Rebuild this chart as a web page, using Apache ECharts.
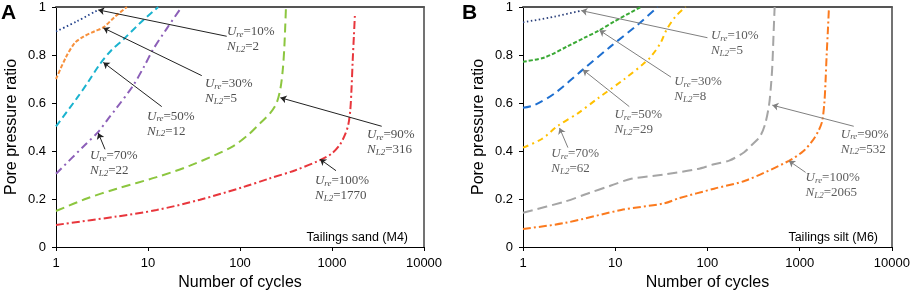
<!DOCTYPE html>
<html>
<head>
<meta charset="utf-8">
<script src="https://cdn.jsdelivr.net/npm/echarts@6/dist/echarts.min.js"></script>
<style>
  html, body { margin: 0; padding: 0; background: #fff; }
  #chart { width: 913px; height: 296px; }
</style>
</head>
<body>
<div id="chart"></div>
<script>
const xTicks = [1, 10, 100, 1000, 10000];
const ureLevels = ['10%', '30%', '50%', '70%', '90%', '100%'];
const sandNL2 = ['2', '5', '12', '22', '316', '1770'];
const siltNL2 = ['5', '8', '29', '62', '532', '2065'];

// panel A, tailings sand (M4): [cycles, pore pressure ratio]
const sand10 = [[1, 0.898], [1.68, 0.94], [2.88, 0.988]];
const sand30 = [[1, 0.70], [1.28, 0.79], [1.6, 0.85], [2.0, 0.877], [2.6, 0.898], [3.27, 0.915], [4.38, 0.96], [5.9, 1.0]];
const sand50 = [[1, 0.503], [1.68, 0.619], [2.24, 0.688], [3.0, 0.762], [4.0, 0.82], [5.4, 0.865], [8.2, 0.933], [12.9, 1.0]];
const sand70 = [[1, 0.305], [2, 0.42], [2.88, 0.48], [3.7, 0.535], [4.57, 0.58], [6.9, 0.673], [9, 0.75], [11.4, 0.824], [16, 0.91], [23.2, 1.0]];
const sand90 = [[1, 0.15], [2.16, 0.202], [4.57, 0.243], [12.4, 0.291], [28.6, 0.339], [80, 0.415], [125, 0.47],
  [165, 0.515], [215, 0.56], [250, 0.6], [275, 0.66], [292, 0.74], [304, 0.84], [316, 1.0]];
const sand100 = [[1, 0.092], [4.57, 0.127], [12.4, 0.154], [36.7, 0.197], [109, 0.25], [203, 0.284], [400, 0.32],
  [741, 0.362], [1000, 0.39], [1222, 0.427], [1385, 0.468], [1503, 0.509], [1580, 0.57], [1630, 0.66],
  [1680, 0.78], [1730, 0.88], [1778, 0.975]];

// panel B, tailings silt (M6)
const silt10 = [[1, 0.936], [2.2, 0.96], [4.28, 0.985]];
const silt30 = [[1, 0.772], [1.72, 0.79], [3.07, 0.837], [4.65, 0.872], [6.75, 0.903], [9.8, 0.94], [19, 1.0]];
const silt50 = [[1, 0.58], [1.34, 0.592], [2.2, 0.64], [4.45, 0.739], [9.0, 0.837], [17.5, 0.926], [28.8, 1.0]];
const silt70 = [[1, 0.414], [1.6, 0.45], [2.39, 0.505], [3.93, 0.557], [6.47, 0.619], [12.6, 0.70], [19.8, 0.76],
  [24, 0.79], [31, 0.85], [36, 0.905], [45, 0.96], [58, 1.0]];
const silt90 = [[1, 0.143], [2.83, 0.189], [5.05, 0.223], [9, 0.256], [14.9, 0.284], [34, 0.302], [78, 0.325],
  [118, 0.345], [172, 0.36], [250, 0.395], [306, 0.427], [370, 0.46], [420, 0.51], [465, 0.591], [490, 0.68],
  [505, 0.755], [520, 0.88], [535, 1.0]];
const silt100 = [[1, 0.075], [2.83, 0.1], [11.6, 0.154], [34, 0.182], [49, 0.203], [118, 0.243], [260, 0.277],
  [764, 0.359], [1100, 0.4], [1365, 0.441], [1580, 0.48], [1750, 0.523], [1850, 0.6], [1905, 0.687],
  [1960, 0.8], [2020, 0.9], [2070, 0.988]];

// annotation anchors, in data units
const sandTextAt = [[72.2, 0.865], [41.6, 0.65], [9.75, 0.514], [2.34, 0.35], [2400, 0.4365], [653, 0.244]];
const sandArrowFrom = [[71.7, 0.878], [38.4, 0.714], [14.1, 0.585], [3.41, 0.407], [3470, 0.503], [1105, 0.318]];
const sandArrowTo = [[2.88, 0.988], [3.27, 0.913], [3.27, 0.769], [2.88, 0.475], [275, 0.622], [741, 0.366]];
const siltTextAt = [[109, 0.848], [43.6, 0.656], [9.8, 0.52], [2.03, 0.357], [2790, 0.439], [1158, 0.257]];
const siltArrowFrom = [[100, 0.872], [40.2, 0.708], [14.2, 0.585], [3.07, 0.414], [3855, 0.503], [1158, 0.311]];
const siltArrowTo = [[4.28, 0.985], [6.75, 0.903], [4.45, 0.739], [2.49, 0.496], [505, 0.591], [764, 0.359]];

const sans = 'Liberation Sans, Arial, sans-serif';
const serif = 'Liberation Serif, Times New Roman, serif';

const rich = {
  i: { fontFamily: serif, fontStyle: 'italic', fontSize: 13, lineHeight: 15 },
  s: { fontFamily: serif, fontStyle: 'italic', fontSize: 9, lineHeight: 6, verticalAlign: 'bottom' },
  n: { fontFamily: serif, fontSize: 13, lineHeight: 15 },
};

function curve(data, color, dash, idx, width) {
  return {
    type: 'line',
    xAxisIndex: idx,
    yAxisIndex: idx,
    data,
    symbol: 'none',
    smooth: 0.3,
    lineStyle: { color, width: width || 2, type: dash },
    z: 3,
  };
}

function arrows(from, to, color, idx) {
  return {
    type: 'lines',
    coordinateSystem: 'cartesian2d',
    xAxisIndex: idx,
    yAxisIndex: idx,
    symbol: ['none', 'arrow'],
    symbolSize: [0, 6],
    lineStyle: { color, width: 1, opacity: 1, curveness: 0 },
    data: from.map((f, i) => ({ coords: [f, to[i]] })),
    z: 4,
  };
}

function notes(at, nl2, color, idx) {
  return {
    type: 'scatter',
    xAxisIndex: idx,
    yAxisIndex: idx,
    symbolSize: 0,
    data: at.map((p, i) => ({
      value: p,
      label: { formatter: `{i|U}{s|re}{n|=${ureLevels[i]}}\n{i|N}{s|L2}{n|=${nl2[i]}}` },
    })),
    label: { show: true, position: 'right', distance: 0, color, rich },
    z: 5,
  };
}

function mainX(idx) {
  return {
    gridIndex: idx,
    type: 'log',
    logBase: 10,
    min: xTicks[0],
    max: xTicks[xTicks.length - 1],
    axisLine: { onZero: false, lineStyle: { color: '#000', width: 1 } },
    axisTick: { length: 4, lineStyle: { color: '#000' } },
    minorTick: { show: false },
    splitLine: { show: false },
    axisLabel: {
      fontSize: 13, color: '#000', fontFamily: sans, margin: 10,
      formatter: v => String(Math.round(v)),
    },
    name: 'Number of cycles',
    nameLocation: 'middle',
    nameGap: 28,
    nameTextStyle: { fontSize: 16, color: '#000', fontFamily: sans },
  };
}

function mainY(idx) {
  return {
    gridIndex: idx,
    type: 'value',
    min: 0,
    max: 1,
    interval: 0.2,
    axisLine: { show: true, onZero: false, lineStyle: { color: '#000', width: 1 } },
    axisTick: { show: true, length: 4, lineStyle: { color: '#000' } },
    splitLine: { show: false },
    axisLabel: { fontSize: 13, color: '#000', fontFamily: sans, margin: 10 },
    name: 'Pore pressure ratio',
    nameLocation: 'middle',
    nameGap: 36,
    nameTextStyle: { fontSize: 16, color: '#000', fontFamily: sans },
  };
}

function frameX(idx) {
  return {
    gridIndex: idx, type: 'value', position: 'top', min: 0, max: 1,
    axisLine: { show: true, onZero: false, lineStyle: { color: '#555', width: 2 } },
    axisTick: { show: false }, axisLabel: { show: false }, splitLine: { show: false },
  };
}

function frameY(idx) {
  return {
    gridIndex: idx, type: 'value', position: 'right', min: 0, max: 1,
    axisLine: { show: true, onZero: false, lineStyle: { color: '#444', width: 1.5 } },
    axisTick: { show: false }, axisLabel: { show: false }, splitLine: { show: false },
  };
}

const chart = echarts.init(document.getElementById('chart'));

chart.setOption({
  animation: false,
  backgroundColor: '#fff',
  grid: [
    { left: 56, top: 7, width: 368, height: 244 },
    { left: 523, top: 7, width: 370, height: 244 },
  ],
  xAxis: [mainX(0), mainX(1), frameX(0), frameX(1)],
  yAxis: [mainY(0), mainY(1), frameY(0), frameY(1)],
  graphic: [
    { type: 'text', left: 1, top: 3, style: { text: 'A', fontSize: 21, fontWeight: 'bold', fontFamily: sans, fill: '#000' } },
    { type: 'text', left: 462, top: 3, style: { text: 'B', fontSize: 21, fontWeight: 'bold', fontFamily: sans, fill: '#000' } },
    { type: 'text', right: 505, top: 231, style: { text: 'Tailings sand (M4)', fontSize: 12.5, fontFamily: sans, fill: '#000' } },
    { type: 'text', right: 35, top: 231, style: { text: 'Tailings silt (M6)', fontSize: 12.5, fontFamily: sans, fill: '#000' } },
  ],
  series: [
    curve(sand10, '#203f8a', [1.5, 2.5], 0, 1.8),
    curve(sand30, '#f7913d', [4, 2], 0),
    curve(sand50, '#1ab3cf', [7, 4], 0),
    curve(sand70, '#8c5fb8', [8, 4, 2, 4], 0),
    curve(sand90, '#8cc63f', [9, 5], 0),
    curve(sand100, '#e8363c', [8, 3, 2, 3], 0),
    arrows(sandArrowFrom, sandArrowTo, '#222', 0),
    notes(sandTextAt, sandNL2, '#222', 0),

    curve(silt10, '#2a3f7a', [1.5, 2.5], 1, 1.8),
    curve(silt30, '#3aa935', [4, 2], 1),
    curve(silt50, '#1e6fd0', [8, 5], 1),
    curve(silt70, '#ffc000', [6, 4, 2, 4], 1),
    curve(silt90, '#a5a5a5', [10, 5], 1),
    curve(silt100, '#fb7a1e', [8, 3, 2, 3], 1),
    arrows(siltArrowFrom, siltArrowTo, '#808080', 1),
    notes(siltTextAt, siltNL2, '#333', 1),
  ],
});
</script>
</body>
</html>
